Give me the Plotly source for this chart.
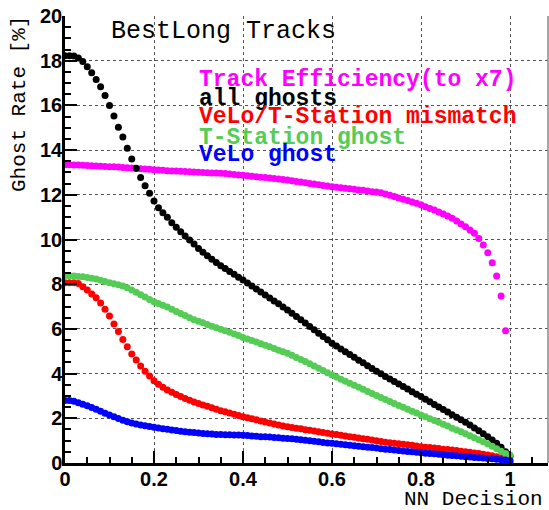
import plotly.graph_objects as go

# NN decision cut values (bin positions)
nn_cut = [round(0.01 * i, 2) for i in range(101)]

# Track efficiency (scaled to x7) for cuts 0.00 .. 0.99
track_eff = [
    13.34, 13.34, 13.33, 13.33, 13.32, 13.31, 13.30, 13.29, 13.28, 13.27,
    13.26, 13.25, 13.24, 13.22, 13.21, 13.20, 13.18, 13.17, 13.15, 13.14,
    13.12, 13.11, 13.10, 13.08, 13.07, 13.06, 13.05, 13.04, 13.03, 13.02,
    13.01, 13.00, 12.99, 12.98, 12.97, 12.96, 12.95, 12.93, 12.91, 12.89,
    12.87, 12.85, 12.83, 12.81, 12.79, 12.77, 12.75, 12.73, 12.71, 12.68,
    12.66, 12.63, 12.60, 12.57, 12.54, 12.51, 12.48, 12.45, 12.42, 12.39,
    12.36, 12.34, 12.31, 12.29, 12.27, 12.25, 12.22, 12.20, 12.17, 12.14,
    12.12, 12.09, 12.04, 11.98, 11.92, 11.86, 11.80, 11.74, 11.68, 11.62,
    11.56, 11.47, 11.39, 11.32, 11.23, 11.14, 11.05, 10.95, 10.83, 10.69,
    10.57, 10.43, 10.28, 10.05, 9.75, 9.41, 8.96, 8.37, 7.47, 5.92,
]

# All ghosts
all_ghosts = [
    18.22, 18.22, 18.21, 18.12, 17.96, 17.73, 17.46, 17.16, 16.84, 16.44,
    15.99, 15.53, 15.02, 14.59, 14.08, 13.60, 13.19, 12.77, 12.41, 12.07,
    11.72, 11.42, 11.20, 10.99, 10.75, 10.55, 10.35, 10.16, 9.98, 9.80,
    9.60, 9.43, 9.27, 9.12, 8.97, 8.83, 8.70, 8.57, 8.44, 8.31,
    8.19, 8.05, 7.92, 7.79, 7.65, 7.52, 7.38, 7.25, 7.12, 6.98,
    6.85, 6.70, 6.56, 6.41, 6.26, 6.11, 5.96, 5.81, 5.66, 5.51,
    5.36, 5.23, 5.10, 4.98, 4.86, 4.73, 4.60, 4.48, 4.35, 4.23,
    4.10, 3.99, 3.87, 3.76, 3.65, 3.53, 3.42, 3.31, 3.19, 3.08,
    2.97, 2.85, 2.74, 2.62, 2.51, 2.39, 2.28, 2.16, 2.05, 1.93,
    1.82, 1.70, 1.57, 1.44, 1.31, 1.17, 1.03, 0.88, 0.70, 0.50,
    0.30,
]

# VeLo / T-Station mismatch ghosts
mismatch = [
    8.07, 8.07, 8.06, 8.03, 7.89, 7.74, 7.56, 7.39, 7.16, 6.88,
    6.58, 6.22, 5.88, 5.53, 5.20, 4.88, 4.61, 4.34, 4.10, 3.89,
    3.68, 3.52, 3.39, 3.27, 3.16, 3.06, 2.97, 2.89, 2.81, 2.73,
    2.66, 2.60, 2.54, 2.47, 2.40, 2.34, 2.29, 2.24, 2.18, 2.12,
    2.07, 2.02, 1.98, 1.93, 1.88, 1.84, 1.79, 1.75, 1.70, 1.66,
    1.62, 1.59, 1.56, 1.53, 1.49, 1.46, 1.43, 1.40, 1.36, 1.33,
    1.30, 1.27, 1.24, 1.21, 1.18, 1.15, 1.12, 1.09, 1.06, 1.03,
    0.99, 0.96, 0.93, 0.91, 0.88, 0.86, 0.84, 0.82, 0.79, 0.76,
    0.73, 0.71, 0.69, 0.67, 0.65, 0.62, 0.60, 0.58, 0.56, 0.53,
    0.50, 0.48, 0.45, 0.42, 0.39, 0.36, 0.32, 0.28, 0.23, 0.16,
    0.06,
]

# T-Station ghosts
t_station = [
    8.38, 8.38, 8.37, 8.35, 8.33, 8.30, 8.27, 8.23, 8.18, 8.12,
    8.07, 8.02, 7.97, 7.92, 7.84, 7.74, 7.64, 7.53, 7.43, 7.32,
    7.22, 7.14, 7.06, 6.98, 6.88, 6.78, 6.69, 6.60, 6.50, 6.41,
    6.34, 6.27, 6.20, 6.12, 6.05, 5.98, 5.92, 5.85, 5.77, 5.70,
    5.62, 5.55, 5.48, 5.41, 5.34, 5.27, 5.20, 5.12, 5.05, 4.98,
    4.91, 4.82, 4.72, 4.63, 4.54, 4.44, 4.34, 4.24, 4.14, 4.04,
    3.94, 3.85, 3.75, 3.66, 3.57, 3.48, 3.39, 3.30, 3.20, 3.11,
    3.02, 2.93, 2.84, 2.75, 2.66, 2.57, 2.49, 2.40, 2.32, 2.24,
    2.15, 2.07, 1.98, 1.90, 1.82, 1.73, 1.65, 1.56, 1.48, 1.40,
    1.31, 1.22, 1.13, 1.04, 0.95, 0.85, 0.75, 0.64, 0.53, 0.42,
    0.36,
]

# VeLo ghosts
velo = [
    2.80, 2.80, 2.76, 2.70, 2.63, 2.56, 2.48, 2.40, 2.32, 2.23,
    2.15, 2.07, 1.99, 1.91, 1.85, 1.79, 1.74, 1.70, 1.67, 1.63,
    1.60, 1.57, 1.53, 1.51, 1.48, 1.45, 1.42, 1.40, 1.38, 1.36,
    1.34, 1.32, 1.31, 1.30, 1.28, 1.27, 1.26, 1.26, 1.25, 1.25,
    1.24, 1.23, 1.21, 1.20, 1.18, 1.17, 1.16, 1.14, 1.13, 1.11,
    1.10, 1.08, 1.06, 1.04, 1.02, 0.99, 0.97, 0.95, 0.92, 0.90,
    0.88, 0.86, 0.84, 0.82, 0.79, 0.77, 0.75, 0.73, 0.71, 0.69,
    0.67, 0.64, 0.62, 0.60, 0.58, 0.56, 0.54, 0.52, 0.50, 0.48,
    0.46, 0.44, 0.42, 0.41, 0.39, 0.37, 0.35, 0.34, 0.32, 0.30,
    0.28, 0.27, 0.25, 0.23, 0.22, 0.20, 0.19, 0.17, 0.15, 0.13,
    0.10,
]

series_names = [
    "Track Efficiency(to x7)",
    "all ghosts",
    "VeLo/T-Station mismatch",
    "T-Station ghost",
    "VeLo ghost",
]
series_values = [track_eff, all_ghosts, mismatch, t_station, velo]
series_colors = ["#ff00ff", "#000000", "#ff0000", "#55cc55", "#0000ff"]

W, H = 549, 510
ML, MR, MT, MB = 65, 1, 16, 47
X_MAX = 483 / 445.0

fig = go.Figure()
for name, vals, col in zip(series_names, series_values, series_colors):
    fig.add_trace(go.Scatter(
        x=nn_cut[:len(vals)], y=vals, mode="markers", name=name,
        marker=dict(color=col, size=7, line=dict(width=0)),
        showlegend=False,
    ))

mono = "Liberation Mono"
# legend-style text block, one line per series
legend_y = [17.12, 16.27, 15.47, 14.55, 13.80]
for name, col, yy in zip(series_names, series_colors, legend_y):
    fig.add_annotation(
        x=0.299, y=yy, xref="x", yref="y", text=name, showarrow=False,
        xanchor="left", yanchor="middle", borderpad=0,
        font=dict(family=mono, size=23, color=col, weight="bold"),
    )

fig.add_annotation(
    x=0.099, y=19.31, xref="x", yref="y", text="BestLong Tracks",
    showarrow=False, xanchor="left", yanchor="middle",
    font=dict(family=mono, size=25, color="black"),
)

fig.add_annotation(
    x=(545 - ML) / 483.0, y=(463 - 500) / 447.0, xref="paper", yref="paper",
    text="NN Decision", showarrow=False, xanchor="right", yanchor="middle",
    font=dict(family=mono, size=21, color="black"),
)
fig.add_annotation(
    x=(20 - ML) / 483.0, y=(463 - 14) / 447.0, xref="paper", yref="paper",
    text="Ghost Rate [%]", showarrow=False, xanchor="center", yanchor="top",
    textangle=-90,
    font=dict(family=mono, size=21, color="black"),
)

# thin frame edge on the right
fig.add_shape(type="line", xref="paper", yref="paper", x0=1, x1=1, y0=0, y1=1,
              line=dict(color="#888888", width=1.5))

tick_font = dict(family="Liberation Sans", size=20, color="black", weight="bold")
fig.update_xaxes(
    range=[0, X_MAX], tickvals=[0, 0.2, 0.4, 0.6, 0.8, 1.0],
    ticktext=["0", "0.2", "0.4", "0.6", "0.8", "1"],
    ticks="inside", ticklen=12, tickwidth=1.5, tickcolor="black",
    showline=True, linecolor="black", linewidth=2.5,
    showgrid=True, gridcolor="#555555", griddash="dot", gridwidth=1,
    minor=dict(dtick=0.05, tick0=0, ticks="inside", ticklen=6, tickwidth=1.5,
               tickcolor="black", showgrid=False),
    tickfont=tick_font, zeroline=False, ticklabelstandoff=-4,
)
fig.update_yaxes(
    range=[0, 20], tickvals=list(range(0, 21, 2)),
    ticks="inside", ticklen=12, tickwidth=1.5, tickcolor="black",
    showline=True, linecolor="black", linewidth=2.5,
    showgrid=True, gridcolor="#555555", griddash="dot", gridwidth=1,
    minor=dict(dtick=0.5, tick0=0, ticks="inside", ticklen=6, tickwidth=1.5,
               tickcolor="black", showgrid=False),
    tickfont=tick_font, zeroline=False, ticklabelstandoff=-4,
)

fig.update_layout(
    width=W, height=H,
    margin=dict(l=ML, r=MR, t=MT, b=MB),
    paper_bgcolor="white", plot_bgcolor="white",
)

fig.write_html("out.html")
